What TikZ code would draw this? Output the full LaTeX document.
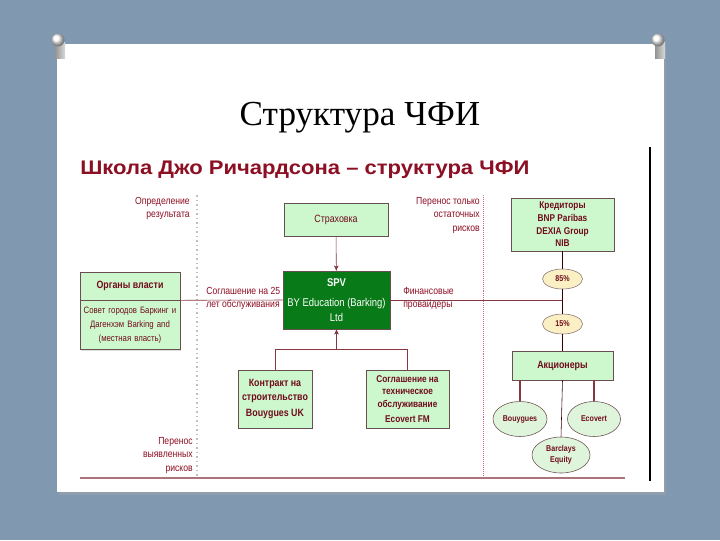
\documentclass[tikz,border=0pt]{standalone}
\usepackage{fontspec}
\setmainfont{Liberation Serif}
\newfontfamily\diagfont[FakeStretch=0.84]{Liberation Sans}
\newfontfamily\headfont[FakeStretch=1.12]{Liberation Sans}
\usepackage{tikz}
\usetikzlibrary{positioning, arrows, shapes.geometric, shadows}

\definecolor{slide}{RGB}{128,153,176}
\definecolor{maroon}{RGB}{140,15,35}
\definecolor{boxgreen}{RGB}{205,247,205}
\definecolor{spvgreen}{RGB}{8,122,24}
\definecolor{cream}{RGB}{250,240,196}
\definecolor{ovalgreen}{RGB}{222,245,220}
\definecolor{linecol}{RGB}{135,55,65}
\definecolor{frame}{RGB}{105,80,80}
\definecolor{pinkdot}{RGB}{200,110,140}

\tikzset{
x=0.025cm, y=-0.025cm, % one unit is one pixel of the slide, y runs downwards
>=stealth', % small bold arrow heads
box/.style={draw=frame, fill=boxgreen, thin, align=center, inner sep=1pt,
  font=\diagfont\bfseries\fontsize{7.5}{10}\selectfont, text=maroon!80!black,
  drop shadow={opacity=0.25, shadow xshift=1pt, shadow yshift=-1pt}}, % the green boxes
spvbox/.style={box, fill=spvgreen, text=white, font=\diagfont\fontsize{8}{10.5}\selectfont}, % the SPV itself
pct/.style={ellipse, draw=frame!80, fill=cream, inner sep=0pt, minimum width=1cm, minimum height=0.5cm,
  font=\diagfont\bfseries\fontsize{6}{7}\selectfont, text=maroon!80!black}, % shares on the chain
holder/.style={ellipse, draw=frame, fill=ovalgreen, inner sep=0pt, align=center, minimum width=1.35cm, minimum height=0.875cm,
  font=\diagfont\bfseries\fontsize{6}{7.5}\selectfont, text=maroon!80!black}, % shareholders
note/.style={font=\diagfont\fontsize{7.3}{9.5}\selectfont, text=maroon, inner sep=0pt}, % red side texts
wire/.style={draw=linecol, thin}, % connectors
}

\begin{document}
\begin{tikzpicture}
  % Slide
  \fill[slide] (0,0) rectangle (720,540);
  \fill[black!35, opacity=0.4] (59,47) rectangle (666,495);
  \fill[white] (57,44) rectangle (664,492);
  \foreach \px in {60,660} {
    \shade[left color=gray!85, right color=gray!30] (\px-5,42) rectangle (\px+5,58);
    \shade[ball color=white] (\px-2,40) circle[radius=0.16cm];
  }
  \node[font=\fontsize{25}{29}\selectfont, anchor=base] (title) at (360,125) {Структура ЧФИ};
  \node[anchor=base west, inner sep=0pt, font=\headfont\bfseries\fontsize{14}{16}\selectfont, text=maroon] (head) at (80,174) {Школа Джо Ричардсона – структура ЧФИ};

  % Frame lines
  \draw[dotted, line width=1.2pt, gray!50] (197,195) -- (197,477);
  \draw[densely dotted, pinkdot] (483,195) -- (483,477);
  \draw[line width=1.3pt, linecol!70] (80,478) -- (625,478);
  \draw[line width=1.2pt, black] (650,147) -- (650,481);

  % Boxes
  \node[box, font=\diagfont\fontsize{7.5}{10}\selectfont, minimum width=2.6cm, minimum height=0.825cm] (ins) at (336,219.5) {Страховка};
  \node[spvbox, minimum width=2.675cm, minimum height=1.45cm] (spv) at (336.5,300) {{\bfseries SPV}\\[4pt] BY Education (Barking)\\ Ltd};
  \node[box, minimum width=2.5cm, minimum height=0.7cm] (authtop) at (130,286) {Органы власти};
  \node[box, font=\diagfont\fontsize{6.6}{10}\selectfont, text width=2.4cm, minimum width=2.5cm, minimum height=1.225cm, below=0pt of authtop] (authbot)
    {Совет городов Баркинг и\\ Дагенхэм Barking and\\ (местная власть)};
  \node[box, minimum width=1.85cm, minimum height=1.45cm] (build) at (275,399) {Контракт на\\ строительство\\[2pt] Bouygues UK};
  \node[box, font=\diagfont\bfseries\fontsize{7}{9}\selectfont, minimum width=2.075cm, minimum height=1.45cm] (maint) at (407.5,399)
    {Соглашение на\\ техническое\\ обслуживание\\[2pt] Ecovert FM};
  \node[box, font=\diagfont\bfseries\fontsize{7}{9}\selectfont, minimum width=2.575cm, minimum height=1.325cm] (lend) at (562.5,224.5)
    {Кредиторы\\ BNP Paribas\\ DEXIA Group\\ NIB};
  \node[box, minimum width=2.525cm, minimum height=0.725cm] (share) at (562.5,365.5) {Акционеры};
  \node[pct] (p85) at (562.5,279) {85\%};
  \node[pct] (p15) at (562.5,324) {15\%};
  \node[holder] (bouy) at (520,419) {Bouygues};
  \node[holder, minimum width=1.325cm] (ecov) at (594,419) {Ecovert};
  \node[holder, minimum width=1.45cm, minimum height=0.9cm] (barc) at (561,455) {Barclays\\ Equity};
  \coordinate[below=0.5cm of spv] (jn);

  % Side texts
  \node[note, align=right, anchor=north east] (result) at (190,197) {Определение\\ результата};
  \node[note, align=right, anchor=north east] (rest) at (480,197) {Перенос только\\ остаточных\\ рисков};
  \node[note, align=right, anchor=north east] (known) at (193,437) {Перенос\\ выявленных\\ рисков};
  \node[note, align=left, anchor=north west] (deal) at (206,287) {Соглашение на 25\\ лет обслуживания};
  \node[note, align=left, anchor=north west] (prov) at (403,287) {Финансовые\\ провайдеры};

  % Connectors
  \draw[wire, ->] (ins) -- (spv);
  \draw[wire] (authbot.north east) -- (spv.west);
  \draw[wire] (spv.east) -- (spv.east -| p85.south);
  \draw[wire, draw=black!80!red] (lend) -- (p85) -- (p15) -- (share);
  \draw[wire, ->] (jn) -- (spv.south);
  \draw[wire] (build.north) |- (jn) -| (maint.north);
  \draw[wire, line width=1pt] (bouy.north |- share.south) -- (bouy.north);
  \draw[wire, line width=1pt] (ecov.north |- share.south) -- (ecov.north);
  \draw[wire, draw=black!80!red] (share.south) -- (barc.north);
\end{tikzpicture}
\end{document}
